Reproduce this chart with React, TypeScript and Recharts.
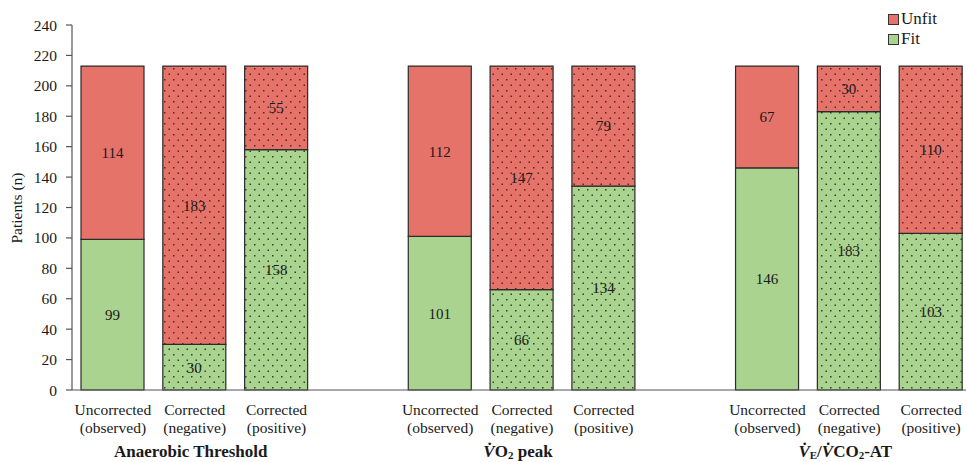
import React from 'react';
import { BarChart, Bar, XAxis, YAxis, LabelList, Cell, Label } from 'recharts';

// fit / unfit patient counts per test, in condition order within each test
const conditions = [
  ['Uncorrected', '(observed)'],
  ['Corrected', '(negative)'],
  ['Corrected', '(positive)'],
];
const tests = ['Anaerobic Threshold', 'VO2 peak', 'VE/VCO2-AT'];
const fitCounts = [99, 30, 158, 101, 66, 134, 146, 183, 103];
const unfitCounts = [114, 183, 55, 112, 147, 79, 67, 30, 110];
const yTicks = [0, 20, 40, 60, 80, 100, 120, 140, 160, 180, 200, 220, 240];

const RED = '#E5736A';
const GREEN = '#A9D38E';
const INK = '#1a1a1a';
const FONT = 'Liberation Serif';

// titles under each group, split into styled runs
type Run = { t: string; italic?: boolean; sub?: boolean };
const testTitles: Run[][] = [
  [{ t: 'Anaerobic Threshold' }],
  [{ t: 'V\u0307', italic: true }, { t: 'O' }, { t: '2', sub: true }, { t: ' peak' }],
  [
    { t: 'V\u0307', italic: true },
    { t: 'E', sub: true },
    { t: '/' },
    { t: 'V\u0307', italic: true },
    { t: 'CO' },
    { t: '2', sub: true },
    { t: '-AT' },
  ],
];

type Row = { key: string; test: number; cond: number; fit?: number; unfit?: number };

// three bars per test with an empty slot between tests
const rows: Row[] = tests.flatMap((_, ti) => {
  const r: Row[] = conditions.map((__, ci) => ({
    key: `${ti}-${ci}`,
    test: ti,
    cond: ci,
    fit: fitCounts[ti * 3 + ci],
    unfit: unfitCounts[ti * 3 + ci],
  }));
  if (ti < tests.length - 1) r.push({ key: `gap-${ti}`, test: ti, cond: -1 });
  return r;
});

const CategoryTick = (props: any) => {
  const { x, y, payload } = props;
  const row = rows.find((r) => r.key === payload.value);
  if (!row || row.cond < 0) return null;
  const [l1, l2] = conditions[row.cond];
  return (
    <g style={{ fontFamily: FONT }} fill={INK}>
      <text x={x} y={y + 25} textAnchor="middle" fontSize={15.5}>{l1}</text>
      <text x={x} y={y + 43} textAnchor="middle" fontSize={15.5}>{l2}</text>
      {row.cond === 1 && (
        <text x={x - 4} y={y + 67} textAnchor="middle" fontSize={17} fontWeight="bold">
          {testTitles[row.test].map((run, i) => {
            const prev = testTitles[row.test][i - 1];
            const dy = run.sub ? 2 : prev && prev.sub ? -2 : 0;
            return (
              <tspan
                key={i}
                dy={dy}
                fontStyle={run.italic ? 'italic' : 'normal'}
                fontSize={run.sub ? 11 : 17}
              >
                {run.t}
              </tspan>
            );
          })}
        </text>
      )}
    </g>
  );
};

const legendItems = [
  { name: 'Unfit', color: RED },
  { name: 'Fit', color: GREEN },
];

const fillFor = (row: Row, base: 'red' | 'green') => {
  if (row.cond === 0) return base === 'red' ? RED : GREEN;
  return base === 'red' ? 'url(#dotsRed)' : 'url(#dotsGreen)';
};

export default function App() {
  return (
    <div
      style={{
        position: 'absolute',
        left: 0,
        top: 0,
        width: 966,
        height: 462,
        overflow: 'hidden',
        background: '#fff',
        fontFamily: FONT,
      }}
    >
      <BarChart
        width={980}
        height={462}
        data={rows}
        margin={{ top: 25, right: 8, left: 0, bottom: 0 }}
        barSize={63}
      >
        <defs>
          <pattern id="dotsRed" width="9" height="11" patternUnits="userSpaceOnUse">
            <rect width="9" height="11" fill={RED} />
            <rect x="2" y="2" width="1.5" height="1.5" fill="#5b2521" />
            <rect x="6.5" y="7.5" width="1.5" height="1.5" fill="#5b2521" />
          </pattern>
          <pattern id="dotsGreen" width="9" height="11" patternUnits="userSpaceOnUse">
            <rect width="9" height="11" fill={GREEN} />
            <rect x="2" y="2" width="1.5" height="1.5" fill="#2e4426" />
            <rect x="6.5" y="7.5" width="1.5" height="1.5" fill="#2e4426" />
          </pattern>
        </defs>
        <XAxis
          dataKey="key"
          interval={0}
          height={72}
          tickLine={false}
          tickSize={0}
          tickMargin={0}
          axisLine={{ stroke: '#555', strokeWidth: 1.2 }}
          tick={<CategoryTick />}
        />
        <YAxis
          width={72}
          domain={[0, 240]}
          ticks={yTicks}
          interval={0}
          tickSize={6}
          tickMargin={9}
          axisLine={{ stroke: '#555', strokeWidth: 1.2 }}
          tickLine={{ stroke: '#555', strokeWidth: 1.2 }}
          tick={{ fill: INK, fontSize: 15.5, style: { fontFamily: FONT } }}
        >
          <Label
            content={() => (
              <text
                x={22}
                y={208}
                transform="rotate(-90 22 208)"
                textAnchor="middle"
                style={{ fontFamily: FONT }}
                fontSize={15.5}
                fill={INK}
              >
                Patients (n)
              </text>
            )}
          />
        </YAxis>
        <Bar dataKey="fit" name="Fit" stackId="a" stroke="#2b2b2b" strokeWidth={1.2} isAnimationActive={false}>
          {rows.map((r) => (
            <Cell key={r.key} fill={fillFor(r, 'green')} />
          ))}
          <LabelList dataKey="fit" position="center" fill={INK} fontSize={15} style={{ fontFamily: FONT }} />
        </Bar>
        <Bar dataKey="unfit" name="Unfit" stackId="a" stroke="#2b2b2b" strokeWidth={1.2} isAnimationActive={false}>
          {rows.map((r) => (
            <Cell key={r.key} fill={fillFor(r, 'red')} />
          ))}
          <LabelList dataKey="unfit" position="center" fill={INK} fontSize={15} style={{ fontFamily: FONT }} />
        </Bar>
      </BarChart>
      <div
        style={{
          position: 'absolute',
          left: 888,
          top: 9,
          fontSize: 17,
          color: INK,
          lineHeight: '20px',
        }}
      >
        {legendItems.map((it) => (
          <div key={it.name} style={{ display: 'flex', alignItems: 'center' }}>
            <span
              style={{
                display: 'inline-block',
                width: 9,
                height: 9,
                background: it.color,
                border: '1px solid #333',
                marginRight: 2,
              }}
            />
            {it.name}
          </div>
        ))}
      </div>
    </div>
  );
}
